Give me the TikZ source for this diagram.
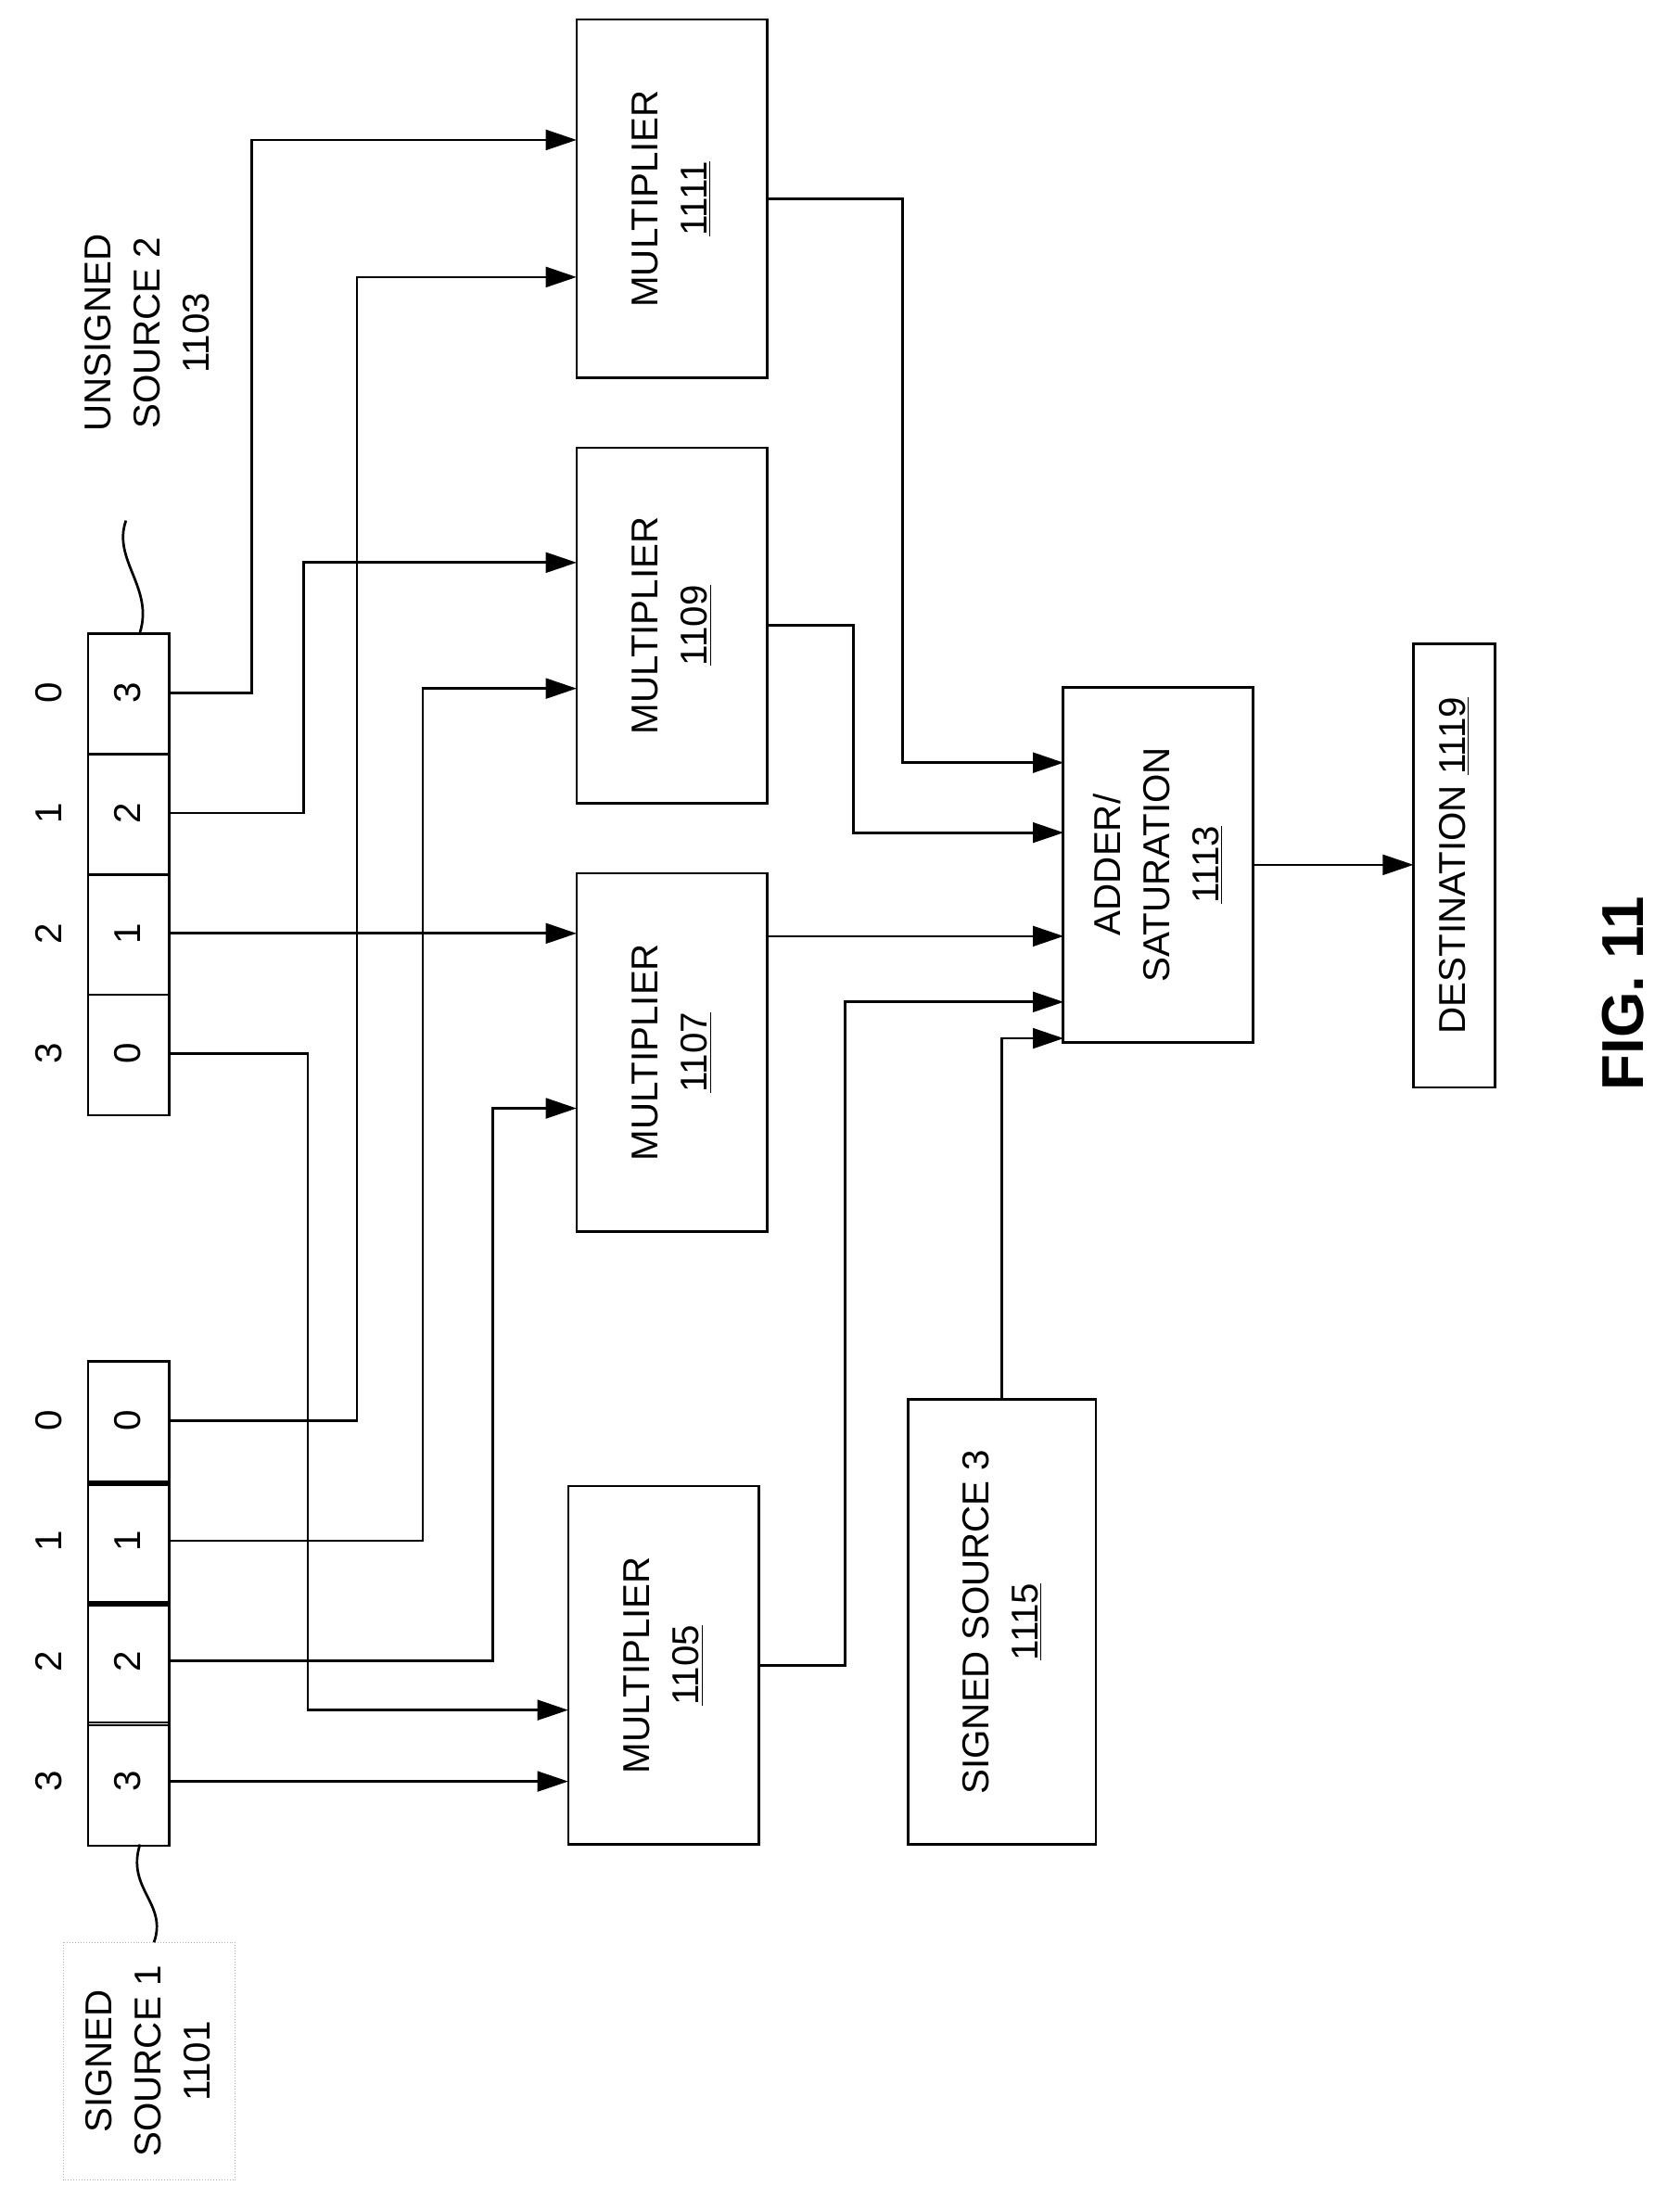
\documentclass[tikz,border=0pt]{standalone}
\usepackage{fontspec}
\setmainfont{Liberation Sans}
\usetikzlibrary{arrows.meta}
\begin{document}
\begin{tikzpicture}[x=0.25mm,y=-0.25mm,
  every node/.style={font=\fontsize{19}{25}\selectfont},
  box/.style={draw,line width=0.45mm,inner sep=0pt},
  lbl/.style={rotate=90,align=center},
  ar/.style={line width=0.45mm,-{Triangle[length=5.5mm,width=3.6mm]}},
  ln/.style={line width=0.45mm}]
\useasboundingbox (0,0) rectangle (1200,1580);
% unsigned source 2 array
\foreach \y/\v/\i [count=\k] in {452/3/0,538/2/1,624/1/2,710/0/3}{
  \node[box,minimum width=14.5mm,minimum height=21.5mm,anchor=north west] (u\k) at (62,\y) {};
  \node[rotate=90] at (91,\y+43) {\v};
  \node[rotate=90] at (35,\y+43) {\i};
}
% signed source 1 array
\foreach \y/\v/\i [count=\k] in {972/0/0,1058/1/1,1144/2/2,1230/3/3}{
  \node[box,minimum width=14.5mm,minimum height=22mm,anchor=north west] (s\k) at (62,\y) {};
  \node[rotate=90] at (91,\y+43) {\v};
  \node[rotate=90] at (35,\y+43) {\i};
}
% multipliers
\node[box,minimum width=34mm,minimum height=64mm] (m1111) at (480,142) {};
\node[lbl] at (m1111) {MULTIPLIER\\\underline{1111}};
\node[box,minimum width=34mm,minimum height=63.5mm] (m1109) at (480,447) {};
\node[lbl] at (m1109) {MULTIPLIER\\\underline{1109}};
\node[box,minimum width=34mm,minimum height=64mm] (m1107) at (480,752) {};
\node[lbl] at (m1107) {MULTIPLIER\\\underline{1107}};
\node[box,minimum width=34mm,minimum height=64mm] (m1105) at (474,1190) {};
\node[lbl] at (m1105) {MULTIPLIER\\\underline{1105}};
\node[box,minimum width=34mm,minimum height=63.5mm] (add) at (827.5,618) {};
\node[lbl] at (add) {ADDER/\\SATURATION\\\underline{1113}};
\node[box,minimum width=33.5mm,minimum height=79.5mm] (ss3) at (716,1159) {};
\node[lbl] at (ss3) {SIGNED SOURCE 3\\\underline{1115}};
\node[box,minimum width=14.5mm,minimum height=79.25mm] (dst) at (1039,618.5) {};
\node[rotate=90] at (dst) {DESTINATION \underline{1119}};
% labels
\node[lbl] (us2) at (105,238) {UNSIGNED\\SOURCE 2\\1103};
\draw[ln] (100,452) .. controls (110,420) and (80,400) .. (90,372);
\draw[densely dotted,gray!60] (45,1388) rectangle (168,1558);
\node[lbl] (ss1) at (106,1473) {SIGNED\\SOURCE 1\\1101};
\draw[ln] (100,1318) .. controls (90,1350) and (120,1360) .. (110,1388);
\node[rotate=90,font=\fontsize{30}{34}\selectfont\bfseries] (fig) at (1160,710) {FIG. 11};
% connectors
\draw[ar] (120,495) -| (180,100) -- (412,100);
\draw[ar] (120,581) -| (217,402) -- (412,402);
\draw[ar] (120,667) -- (412,667);
\draw[ar] (120,753) -| (220,1222) -- (406,1222);
\draw[ar] (120,1015) -| (255,198) -- (412,198);
\draw[ar] (120,1101) -| (302,492) -- (412,492);
\draw[ar] (120,1187) -| (352,792) -- (412,792);
\draw[ar] (120,1273) -- (406,1273);
\draw[ar] (548,142) -| (645,545) -- (760,545);
\draw[ar] (548,447) -| (610,595) -- (760,595);
\draw[ar] (548,669) -- (760,669);
\draw[ar] (542,1190) -| (604,716) -- (760,716);
\draw[ar] (716,1000) |- (760,742);
\draw[ar] (895,618) -- (1010,618);
\end{tikzpicture}
\end{document}
